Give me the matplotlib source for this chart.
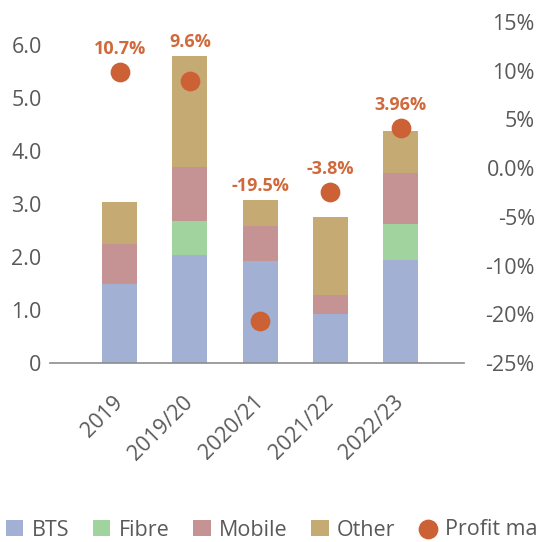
import matplotlib
matplotlib.use("Agg")
import numpy as np
from matplotlib import pyplot as plt

plt.rcParams["font.family"] = ["Open Sans", "DejaVu Sans"]

years = ["2019", "2019/20", "2020/21", "2021/22", "2022/23"]
bts = [1.49, 2.03, 1.92, 0.93, 1.95]
fibre = [0.0, 0.64, 0.0, 0.0, 0.68]
mobile = [0.76, 1.02, 0.66, 0.36, 0.96]
other = [0.79, 2.10, 0.49, 1.46, 0.78]
profit_margin = [10.7, 9.6, -19.5, -3.8, 3.96]
margin_labels = ["10.7%", "9.6%", "-19.5%", "-3.8%", "3.96%"]
left_ticks = [0, 1, 2, 3, 4, 5, 6]
left_tick_labels = ["0", "1.0", "2.0", "3.0", "4.0", "5.0", "6.0"]
right_tick_labels = ["-25%", "-20%", "-10%", "-5%", "0.0%", "5%", "10%", "15%"]

colors = {"BTS": "#a2b0d3", "Fibre": "#a1d39e", "Mobile": "#c59393",
          "Other": "#c6aa74"}
dot_color = "#cc6135"
label_color = "#d0693b"
text_gray = "#595959"
fs = 15.5

W, H = 538, 542
fig = plt.figure(figsize=(W / 100, H / 100), dpi=100)
ax = fig.add_axes([50 / W, 1 - 363 / H, (464 - 50) / W, (363 - 22) / H])

x = np.arange(len(years))
bottom = np.zeros(len(years))
handles = []
for name, vals in [("BTS", bts), ("Fibre", fibre), ("Mobile", mobile), ("Other", other)]:
    b = ax.bar(x, vals, width=0.5, bottom=bottom, color=colors[name], label=name)
    handles.append(b)
    bottom += np.array(vals)
totals = bottom.copy()

ax.set_xlim(-0.99, 4.9)
ax.set_ylim(0, 6.43)
ax.set_yticks(left_ticks)
ax.set_yticklabels(left_tick_labels)
ax.set_xticks(x)
ax.set_xticklabels(years, rotation=45, ha="right", va="center", rotation_mode="anchor")
ax.tick_params(axis="both", length=0, labelsize=fs, colors=text_gray)
ax.tick_params(axis="y", pad=6)
ax.tick_params(axis="x", pad=26)
for s in ["top", "left", "right"]:
    ax.spines[s].set_visible(False)
ax.spines["bottom"].set_color("#8c8c8c")
ax.spines["bottom"].set_linewidth(1.2)

## secondary axis for profit margin
ax2 = ax.twinx()
ax2.set_ylim(-24.64, 16.81)
ax2.set_yticks(np.linspace(-24.64, 16.81, 8))
ax2.set_yticklabels(right_tick_labels, ha="right")
ax2.tick_params(axis="y", length=0, labelsize=fs, colors=text_gray, pad=51)
for s in ax2.spines.values():
    s.set_visible(False)
sc = ax2.scatter(x, profit_margin, s=175, color=dot_color, zorder=5, label="Profit margin")
handles.append(sc)

## data labels: above the dot, or above the bar if the bar is higher
for xi, pm, tot, lab in zip(x, profit_margin, totals, margin_labels):
    dot_px = ax2.transData.transform((xi, pm))[1] + 23
    bar_px = ax.transData.transform((xi, tot))[1] + 14
    y_px = max(dot_px, bar_px)
    y_val = ax2.transData.inverted().transform((0, y_px))[1]
    ax2.text(xi, y_val, lab, ha="center", va="center", color=label_color,
             fontsize=13, fontweight="bold")

fig.legend(handles, ["BTS", "Fibre", "Mobile", "Other", "Profit margin"], ncol=5,
           loc="center left", bbox_to_anchor=(6 / W, 1 - 530 / H), frameon=False,
           borderpad=0, borderaxespad=0, handlelength=0.8, handleheight=0.8,
           handletextpad=0.4, columnspacing=1.1, fontsize=fs, labelcolor=text_gray)

fig.savefig("out.png", dpi=100)
